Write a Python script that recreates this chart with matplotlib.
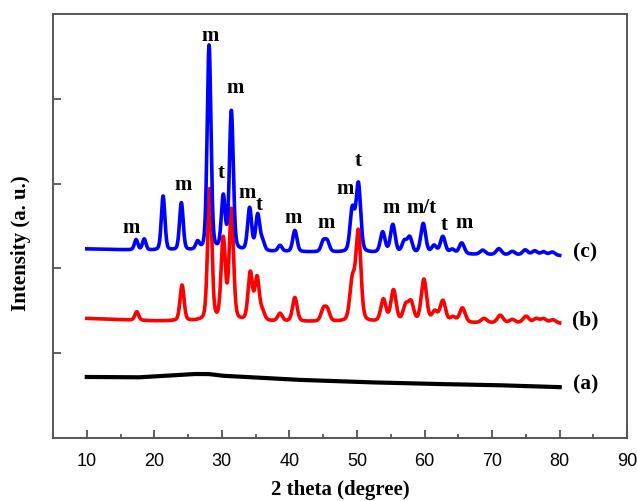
import numpy as np
import matplotlib
matplotlib.use('Agg')
import matplotlib.pyplot as plt

# XRD patterns: (a) amorphous, (b) and (c) crystalline ZrO2 (m = monoclinic, t = tetragonal)
two_theta_range = (10, 80)

# baselines (2theta, intensity) for each trace
base_a_x = [10, 17.5, 22, 25.8, 28, 30, 35.7, 40, 50.5, 60, 70, 80]
base_a_y = [0.72, 0.715, 0.735, 0.755, 0.755, 0.735, 0.71, 0.69, 0.66, 0.64, 0.625, 0.60]
base_b_x = [10, 20, 45, 80]
base_b_y = [1.41, 1.38, 1.37, 1.35]
base_c_x = [10, 20, 45, 80]
base_c_y = [2.23, 2.21, 2.19, 2.15]

# peak positions and heights above baseline
peaks_b_pos = [17.4, 24.1, 28.2, 30.2, 31.4, 34.2, 35.2, 36.0, 38.6, 40.8, 45.0, 45.6,
               49.3, 50.2, 53.9, 55.4, 57.2, 58.0, 59.9, 61.5, 62.7, 64.2, 65.6,
               68.8, 71.2, 73.0, 75.0, 76.5, 77.6, 79.0]
peaks_b_h = [0.10, 0.42, 1.55, 0.95, 1.30, 0.56, 0.50, 0.10, 0.09, 0.28, 0.13, 0.13,
             0.46, 1.05, 0.26, 0.37, 0.18, 0.22, 0.50, 0.12, 0.25, 0.06, 0.17,
             0.05, 0.09, 0.04, 0.08, 0.05, 0.05, 0.04]

peaks_c_pos = [17.3, 18.5, 21.3, 24.0, 26.4, 28.1, 30.2, 31.4, 34.1, 35.3, 36.0, 38.6,
               40.8, 45.0, 45.6, 49.3, 50.2, 53.8, 55.3, 57.0, 57.8, 59.8, 61.4,
               62.7, 64.1, 65.5, 68.6, 71.0, 73.0, 74.9, 76.3, 77.6, 78.9]
peaks_c_h = [0.12, 0.13, 0.64, 0.56, 0.09, 2.42, 0.62, 1.64, 0.50, 0.42, 0.11, 0.07,
             0.25, 0.12, 0.12, 0.50, 0.80, 0.24, 0.33, 0.13, 0.18, 0.35, 0.09,
             0.20, 0.05, 0.13, 0.05, 0.07, 0.04, 0.06, 0.05, 0.04, 0.04]

# phase labels: (text, 2theta, intensity)
phase_txt = ['m', 'm', 'm', 'm', 't', 'm', 't', 'm', 'm', 'm', 't', 'm', 'm/t', 't', 'm']
phase_x = [16.6, 24.3, 28.3, 31.9, 29.9, 33.8, 35.5, 40.5, 45.5, 48.3, 50.1, 55.0, 59.6, 62.9, 65.8]
phase_y = [2.48, 2.98, 4.74, 4.13, 3.12, 2.89, 2.75, 2.59, 2.54, 2.94, 3.27, 2.71, 2.71, 2.51, 2.54]

trace_names = ['(a)', '(b)', '(c)']
trace_label_y = [0.63, 1.39, 2.19]


def pattern(x, pos, h, broad=1.0):
    y = np.zeros_like(x)
    for p, a in zip(pos, h):
        w = broad * (0.26 + 0.0025 * (p - 20))
        g = np.exp(-0.5 * ((x - p) / w) ** 2)
        l = 1.0 / (1.0 + ((x - p) / (1.2 * w)) ** 2)
        y += a * (0.72 * g + 0.28 * l)
    return y


x = np.linspace(two_theta_range[0], two_theta_range[1], 4000)
ya = np.interp(x, base_a_x, base_a_y)
yb = np.interp(x, base_b_x, base_b_y) + pattern(x, peaks_b_pos, peaks_b_h, 1.1)
yc = np.interp(x, base_c_x, base_c_y) + pattern(x, peaks_c_pos, peaks_c_h)

fig = plt.figure(figsize=(6.37, 5.01), dpi=100)
ax = fig.add_axes([0.0832, 0.1257, 0.9015, 0.8463])

ax.plot(x, ya, color='black', lw=3.0)
ax.plot(x, yb, color='#ff0000', lw=2.6)
ax.plot(x, yc, color='#0000ff', lw=2.6)

serif = 'Liberation Serif'
for t, px, py in zip(phase_txt, phase_x, phase_y):
    ax.text(px, py, t, ha='center', va='center', fontsize=15, fontweight='bold', family=serif)
for t, py in zip(trace_names, trace_label_y):
    ax.text(83.8, py, t, ha='center', va='center', fontsize=15.5, fontweight='bold', family=serif)

ax.set_xlim(5, 90)
ax.set_ylim(0, 5)
ax.set_xticks(np.arange(10, 91, 10))
ax.set_xticks(np.arange(15, 90, 10), minor=True)
ax.set_yticks([1, 2, 3, 4])
ax.set_yticklabels([])
ax.tick_params(axis='both', which='major', direction='in', length=6, width=1.2, color='#444444')
ax.tick_params(axis='x', which='minor', direction='in', length=3, width=1.2, color='#444444')
ax.tick_params(axis='x', pad=11, labelsize=13)
for lab in ax.get_xticklabels():
    lab.set_family('Liberation Sans')
for s in ax.spines.values():
    s.set_color('#555555')
    s.set_linewidth(1.4)

ax.set_xlabel('2 theta (degree)', fontsize=15, fontweight='bold', family=serif)
ax.xaxis.set_label_coords(0.5, -0.098)
ax.set_ylabel('Intensity (a. u.)', fontsize=15, fontweight='bold', family=serif)
ax.yaxis.set_label_coords(-0.038, 0.46)

fig.savefig('out.png', dpi=100)
